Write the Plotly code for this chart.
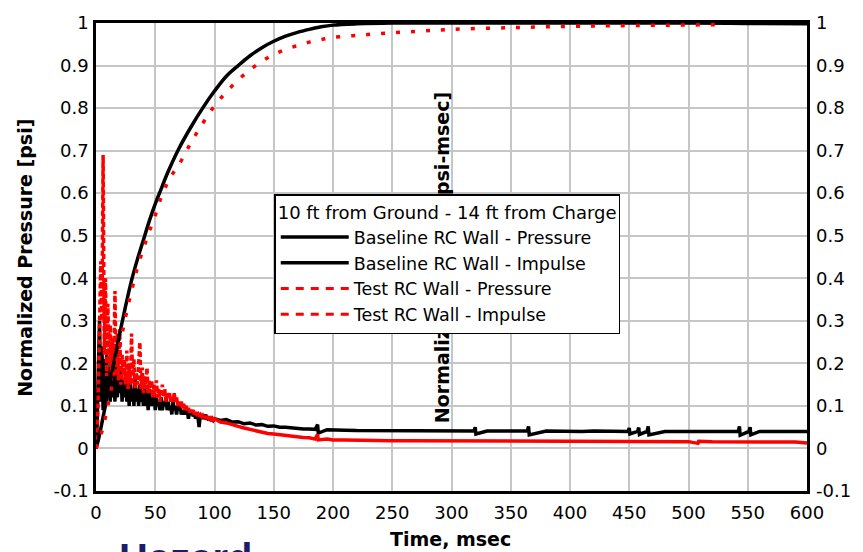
import plotly.graph_objects as go

# ---- data -------------------------------------------------------------
# pressure records: 1 ms samples over the first 100 ms, then sparser
t_fast = list(range(0, 101))

baseline_pressure_fast = [
    0.00, 0.06, 0.19, 0.30, 0.11, 0.24, 0.09, 0.21, 0.10, 0.22,
    0.12, 0.19, 0.11, 0.23, 0.12, 0.18, 0.11, 0.20, 0.12, 0.17,
    0.13, 0.19, 0.11, 0.16, 0.12, 0.18, 0.11, 0.15, 0.10, 0.16,
    0.11, 0.14, 0.10, 0.17, 0.11, 0.14, 0.10, 0.15, 0.11, 0.13,
    0.10, 0.15, 0.10, 0.13, 0.09, 0.14, 0.10, 0.12, 0.10, 0.13,
    0.09, 0.12, 0.10, 0.11, 0.09, 0.12, 0.09, 0.11, 0.10, 0.12,
    0.09, 0.11, 0.09, 0.10, 0.08, 0.11, 0.09, 0.10, 0.08, 0.10,
    0.09, 0.10, 0.08, 0.09, 0.08, 0.09, 0.08, 0.09, 0.07, 0.085,
    0.08, 0.09, 0.075, 0.085, 0.07, 0.08, 0.075, 0.05, 0.08, 0.07,
    0.075, 0.07, 0.08, 0.068, 0.075, 0.066, 0.072, 0.065, 0.07, 0.066, 0.07,
]

test_pressure_fast = [
    0.00, 0.03, 0.14, 0.26, 0.44, 0.30, 0.69, 0.22, 0.40, 0.17,
    0.34, 0.20, 0.29, 0.16, 0.26, 0.19, 0.37, 0.17, 0.27, 0.16,
    0.28, 0.15, 0.22, 0.16, 0.21, 0.15, 0.23, 0.14, 0.20, 0.15,
    0.27, 0.15, 0.21, 0.14, 0.18, 0.15, 0.22, 0.25, 0.14, 0.19,
    0.13, 0.17, 0.14, 0.19, 0.13, 0.16, 0.13, 0.16, 0.12, 0.15,
    0.12, 0.16, 0.12, 0.14, 0.11, 0.14, 0.15, 0.12, 0.14, 0.11,
    0.13, 0.12, 0.13, 0.11, 0.12, 0.11, 0.13, 0.11, 0.12, 0.10,
    0.11, 0.10, 0.11, 0.095, 0.105, 0.09, 0.10, 0.09, 0.095, 0.085,
    0.09, 0.085, 0.09, 0.08, 0.085, 0.08, 0.082, 0.078, 0.08, 0.075,
    0.078, 0.072, 0.076, 0.07, 0.074, 0.07, 0.072, 0.068, 0.071, 0.067, 0.07,
]

t_baseline_tail = [
    105, 110, 115, 120, 125, 130, 135, 140, 145, 150, 155, 160, 165, 170,
    175, 180, 185, 187, 187.6, 195, 200, 210, 220, 230, 240, 250, 260, 270,
    280, 290, 300, 310, 319, 320, 320.6, 330, 340, 350, 360, 364, 365, 365.6,
    380, 390, 400, 410, 420, 430, 440, 449, 450, 450.6, 457, 458, 458.6, 465,
    466, 466.6, 480, 490, 500, 510, 520, 530, 540, 542, 543, 543.6, 551, 552,
    552.6, 560, 570, 580, 590, 600,
]
baseline_pressure_tail = [
    0.066, 0.068, 0.062, 0.063, 0.058, 0.060, 0.055, 0.056, 0.052, 0.053, 0.050, 0.050, 0.048, 0.048,
    0.046, 0.046, 0.045, 0.056, 0.036, 0.044, 0.043, 0.043, 0.042, 0.042, 0.041, 0.042, 0.041, 0.041,
    0.042, 0.041, 0.041, 0.041, 0.041, 0.050, 0.034, 0.041, 0.041, 0.041, 0.041, 0.041, 0.052, 0.032,
    0.041, 0.040, 0.041, 0.040, 0.041, 0.040, 0.041, 0.040, 0.048, 0.034, 0.040, 0.049, 0.033, 0.040,
    0.052, 0.032, 0.040, 0.041, 0.040, 0.040, 0.041, 0.040, 0.040, 0.040, 0.052, 0.031, 0.040, 0.050,
    0.032, 0.040, 0.040, 0.040, 0.040, 0.040,
]

t_test_tail = [
    105, 110, 115, 120, 125, 130, 135, 140, 145, 150, 155, 160, 165, 170,
    175, 180, 185, 187, 187.6, 195, 200, 210, 220, 230, 240, 250, 260, 270,
    280, 290, 300, 320, 340, 360, 380, 400, 420, 440, 460, 480, 500, 508,
    508.6, 520, 540, 560, 580, 590, 600,
]
test_pressure_tail = [
    0.062, 0.060, 0.055, 0.052, 0.048, 0.045, 0.040, 0.037, 0.035, 0.034, 0.032, 0.030, 0.028, 0.027,
    0.026, 0.025, 0.022, 0.033, 0.020, 0.022, 0.020, 0.020, 0.019, 0.019, 0.019, 0.018, 0.018, 0.018,
    0.018, 0.018, 0.018, 0.018, 0.018, 0.017, 0.017, 0.017, 0.017, 0.017, 0.016, 0.016, 0.016, 0.012,
    0.017, 0.016, 0.016, 0.016, 0.015, 0.015, 0.013,
]

# cumulative impulse records
t_baseline_imp = [0, 2, 5, 10, 15, 20, 25, 30, 35, 40, 45, 50, 55, 60, 70, 80, 90, 100, 110,
                  120, 130, 140, 150, 160, 170, 180, 190, 200, 220, 250, 300, 400, 500, 550, 600]
baseline_impulse = [0.0, 0.02, 0.06, 0.13, 0.20, 0.27, 0.335, 0.395, 0.445, 0.49, 0.535, 0.575,
                    0.61, 0.645, 0.705, 0.755, 0.80, 0.84, 0.875, 0.90, 0.923, 0.942, 0.957,
                    0.969, 0.978, 0.985, 0.991, 0.995, 0.998, 1.0, 1.0, 1.0, 1.0, 0.999, 0.998]

t_test_imp = [0, 5, 10, 15, 20, 25, 30, 35, 40, 45, 50, 55, 60, 65, 70, 80, 90, 100, 110, 120,
              130, 140, 150, 160, 170, 180, 190, 200, 225, 250, 275, 300, 350, 400, 450, 525]
test_impulse = [0.0, 0.04, 0.10, 0.17, 0.24, 0.31, 0.37, 0.425, 0.47, 0.51, 0.548, 0.59, 0.622,
                0.647, 0.667, 0.718, 0.764, 0.805, 0.838, 0.866, 0.89, 0.91, 0.926, 0.938, 0.947,
                0.955, 0.961, 0.966, 0.972, 0.977, 0.981, 0.985, 0.989, 0.992, 0.994, 0.996]

x_ticks = list(range(0, 601, 50))
y_ticks = [-0.1, 0, 0.1, 0.2, 0.3, 0.4, 0.5, 0.6, 0.7, 0.8, 0.9, 1]
y_tick_text = ["-0.1", "0", "0.1", "0.2", "0.3", "0.4", "0.5", "0.6", "0.7", "0.8", "0.9", "1"]

legend_title = "10 ft from Ground - 14 ft from Charge"
names = ["Baseline RC Wall - Pressure", "Baseline RC Wall - Impulse",
         "Test RC Wall - Pressure", "Test RC Wall - Impulse"]

BLACK = "#000000"
RED = "#ff0000"
FONT = "DejaVu Sans, Liberation Sans, Arial, sans-serif"

# ---- figure -----------------------------------------------------------
fig = go.Figure()

fig.add_trace(go.Scatter(
    x=t_fast + t_baseline_tail, y=baseline_pressure_fast + baseline_pressure_tail,
    mode="lines", name=names[0], line=dict(color=BLACK, width=3.5), yaxis="y"))
fig.add_trace(go.Scatter(
    x=t_baseline_imp, y=baseline_impulse, mode="lines", name=names[1],
    line=dict(color=BLACK, width=3.5, shape="spline"), yaxis="y2"))

# test-wall pressure: the long spikes of the first 60 ms show the dash
# pattern, the dense slow decay afterwards reads as a solid line
split = 60
test_t = t_fast + t_test_tail
test_p = test_pressure_fast + test_pressure_tail
fig.add_trace(go.Scatter(
    x=test_t[:split + 1], y=test_p[:split + 1], mode="lines", name=names[2],
    showlegend=False, legendgroup="tp",
    line=dict(color=RED, width=3.5, dash="5px,3px"), yaxis="y"))
fig.add_trace(go.Scatter(
    x=test_t[split:], y=test_p[split:], mode="lines", name=names[2],
    showlegend=False, legendgroup="tp",
    line=dict(color=RED, width=3.5), yaxis="y"))
fig.add_trace(go.Scatter(
    x=t_test_imp, y=test_impulse, mode="lines", name=names[3], showlegend=False,
    legendgroup="ti",
    line=dict(color=RED, width=3.5, dash="4px,11px", shape="spline"), yaxis="y2"))

# legend keys for the test wall use a dashed red line
for nm, grp in zip(names[2:], ["tp", "ti"]):
    fig.add_trace(go.Scatter(
        x=[None], y=[None], mode="lines", name=nm, legendgroup=grp,
        line=dict(color=RED, width=3, dash="8px,7px"), yaxis="y"))

axis_common = dict(
    showgrid=True, gridcolor="#c6c6c6", gridwidth=1.5, zeroline=False,
    ticks="", tickfont=dict(size=18, color="black", family=FONT),
)

fig.update_layout(
    width=863, height=552,
    margin=dict(l=96, r=53, t=16, b=61),
    paper_bgcolor="white", plot_bgcolor="white",
    font=dict(family=FONT, size=18, color="black"),
    xaxis=dict(range=[0, 600], tickvals=x_ticks, ticktext=[str(v) for v in x_ticks],
               showline=True, linecolor=BLACK, linewidth=2.5, mirror=True,
               ticklabelstandoff=4, **axis_common),
    yaxis=dict(range=[-0.1, 1], tickvals=y_ticks, ticktext=y_tick_text,
               showline=True, linecolor=BLACK, linewidth=2.5, mirror=True,
               ticklabelstandoff=1, **axis_common),
    yaxis2=dict(range=[-0.1, 1], tickvals=y_ticks, ticktext=y_tick_text,
                overlaying="y", side="right", showgrid=False, showline=False,
                zeroline=False, ticks="", ticklabelstandoff=8,
                tickfont=dict(size=18, color="black", family=FONT)),
    showlegend=True,
    legend=dict(
        x=0.2507, y=0.634, xanchor="left", yanchor="top",
        bgcolor="white", bordercolor=BLACK, borderwidth=1.5,
        font=dict(size=17.5, color="black", family=FONT),
        title=dict(text=legend_title, side="top", font=dict(size=18, family=FONT)),
        itemwidth=68, tracegroupgap=0,
    ),
)

# impulse axis title, drawn in the shape layer so the legend box covers it
fig.add_shape(type="rect", xref="paper", yref="paper",
              x0=0.4746, x1=0.4946, y0=0.2, y1=0.798,
              line=dict(width=0), fillcolor="rgba(0,0,0,0)", layer="above",
              label=dict(text="<b>Normalized Impulse [psi-msec]</b>", textangle=-90,
                         textposition="middle center",
                         font=dict(size=19, color="black", family=FONT)))

fig.add_annotation(text="<b>Normalized Pressure [psi]</b>", textangle=-90,
                   xref="paper", yref="paper", x=-0.0994, y=0.499,
                   xanchor="center", yanchor="middle",
                   showarrow=False, font=dict(size=19, family=FONT))
fig.add_annotation(text="<b>Time, msec</b>",
                   xref="paper", yref="paper", x=0.4986, y=-0.103,
                   xanchor="center", yanchor="middle",
                   showarrow=False, font=dict(size=19, family=FONT))
fig.add_annotation(text="<b>Hazard</b>", xref="paper", yref="paper", x=0.03, y=-0.0925,
                   xanchor="left", yanchor="top", showarrow=False,
                   font=dict(size=40, color="#1c1c6b", family="Liberation Sans, Arial"))

fig.write_html("out.html")
